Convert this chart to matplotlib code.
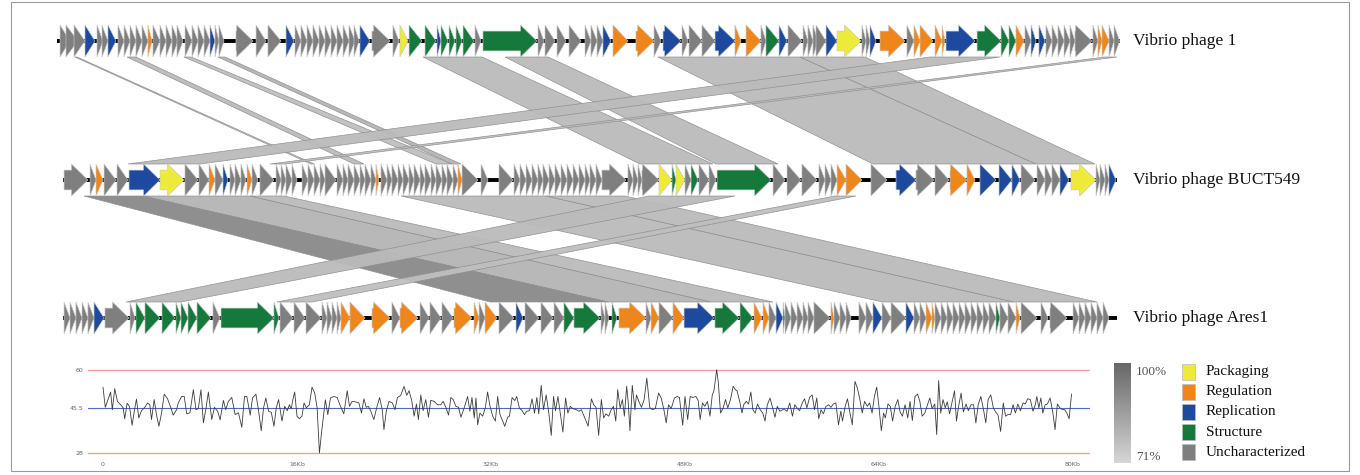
import numpy as np
import matplotlib.pyplot as plt
from matplotlib.patches import Polygon, Rectangle
from matplotlib.colors import LinearSegmentedColormap, Normalize

plt.rcParams['font.family'] = ['Liberation Serif', 'DejaVu Serif']

# ---------------- data ----------------
genome_names = ['Vibrio phage 1', 'Vibrio phage BUCT549', 'Vibrio phage Ares1']
genome_len = [80.5, 79.85, 79.85]          # kb

legend_cats = ['P', 'R', 'B', 'S', 'U']
legend_names = ['Packaging', 'Regulation', 'Replication', 'Structure', 'Uncharacterized']

# genes: (start kb, end kb, category)
genes_phage1 = [
    (0.23, 0.98, 'U'), (0.68, 1.59, 'U'), (1.29, 2.12, 'U'), (2.12, 2.88, 'B'),
    (3.03, 3.48, 'U'), (3.41, 3.86, 'U'), (3.86, 4.47, 'B'), (4.62, 5.08, 'U'),
    (5.08, 5.53, 'U'), (5.53, 5.98, 'U'), (5.98, 6.44, 'U'), (6.44, 6.89, 'U'),
    (6.89, 7.20, 'R'), (7.27, 7.80, 'U'), (7.80, 8.26, 'U'), (8.26, 8.71, 'U'),
    (8.71, 9.17, 'U'), (9.09, 9.55, 'U'), (9.70, 10.23, 'U'), (10.23, 10.68, 'U'),
    (10.68, 11.14, 'U'), (11.14, 11.59, 'U'), (11.59, 11.97, 'B'), (11.97, 12.27, 'U'),
    (12.27, 12.65, 'U'), (13.56, 14.85, 'U'), (15.08, 15.83, 'U'), (15.98, 16.97, 'U'),
    (17.35, 17.95, 'B'), (18.03, 18.48, 'U'), (18.48, 18.94, 'U'), (18.94, 19.39, 'U'),
    (19.39, 19.85, 'U'), (19.85, 20.30, 'U'), (20.30, 20.76, 'U'), (20.76, 21.21, 'U'),
    (21.21, 21.67, 'U'), (21.67, 22.12, 'U'), (22.12, 22.58, 'U'), (22.50, 22.88, 'U'),
    (22.95, 23.71, 'B'), (23.86, 25.23, 'U'), (25.45, 25.91, 'U'), (25.98, 26.59, 'P'),
    (26.67, 27.65, 'S'), (27.88, 28.71, 'S'), (28.79, 29.09, 'B'), (29.09, 29.62, 'S'),
    (29.70, 30.15, 'S'), (30.23, 30.68, 'S'), (30.76, 31.59, 'S'), (31.67, 32.12, 'U'),
    (32.27, 36.36, 'S'), (36.44, 36.89, 'U'), (36.97, 37.73, 'U'), (37.88, 38.56, 'U'),
    (38.79, 39.70, 'U'), (40.00, 40.45, 'U'), (40.45, 40.91, 'U'), (40.91, 41.36, 'U'),
    (41.36, 41.97, 'B'), (42.12, 43.26, 'R'), (43.86, 45.23, 'R'), (45.23, 45.76, 'U'),
    (45.91, 47.27, 'B'), (47.35, 47.80, 'U'), (47.88, 48.86, 'U'), (48.86, 49.85, 'U'),
    (49.85, 51.36, 'B'), (51.36, 51.82, 'R'), (52.20, 53.33, 'R'), (53.33, 53.71, 'U'),
    (53.71, 54.70, 'S'), (54.70, 55.30, 'B'), (55.38, 56.44, 'U'), (56.52, 56.89, 'U'),
    (56.89, 57.27, 'U'), (57.27, 57.65, 'U'), (57.50, 58.26, 'U'), (58.26, 59.09, 'B'),
    (59.09, 60.91, 'P'), (60.98, 61.29, 'U'), (61.29, 61.59, 'U'), (61.59, 62.05, 'B'),
    (62.35, 64.24, 'R'), (64.39, 64.92, 'U'), (64.92, 65.38, 'R'), (65.38, 66.36, 'R'),
    (66.52, 67.05, 'R'), (67.05, 67.27, 'R'), (67.35, 69.55, 'B'), (69.70, 71.52, 'S'),
    (71.52, 72.12, 'S'), (72.12, 72.65, 'S'), (72.65, 73.26, 'R'), (73.33, 73.79, 'U'),
    (73.79, 74.17, 'B'), (74.39, 74.85, 'B'), (74.92, 75.38, 'U'), (75.38, 75.83, 'U'),
    (75.83, 76.29, 'U'), (76.29, 76.74, 'U'), (76.74, 77.12, 'U'), (77.12, 78.41, 'U'),
    (78.48, 78.86, 'U'), (78.86, 79.17, 'R'), (79.17, 79.70, 'R'), (79.70, 80.08, 'U'),
    (80.08, 80.50, 'U'),
]

genes_buct549 = [
    (0.08, 1.89, 'U'), (2.05, 2.50, 'U'), (2.50, 3.03, 'R'), (3.11, 4.02, 'U'),
    (4.09, 4.92, 'U'), (5.00, 7.35, 'B'), (7.35, 9.17, 'P'), (9.24, 10.23, 'U'),
    (10.30, 11.06, 'U'), (11.06, 11.52, 'R'), (11.52, 12.12, 'U'), (12.12, 12.50, 'B'),
    (12.65, 13.03, 'U'), (13.03, 13.48, 'U'), (13.48, 13.86, 'U'), (13.94, 14.32, 'R'),
    (14.32, 14.77, 'U'), (14.92, 15.98, 'U'), (16.14, 16.52, 'U'), (16.52, 16.89, 'U'),
    (16.89, 17.35, 'U'), (17.35, 17.73, 'U'), (18.11, 18.56, 'U'), (18.56, 19.02, 'U'),
    (19.02, 19.47, 'U'), (19.47, 19.85, 'U'), (19.85, 20.68, 'U'), (20.76, 21.21, 'U'),
    (21.21, 21.59, 'U'), (21.59, 22.05, 'U'), (22.05, 22.50, 'U'), (22.50, 22.88, 'U'),
    (22.88, 23.33, 'U'), (23.33, 23.71, 'U'), (23.71, 23.94, 'R'), (24.09, 24.55, 'U'),
    (24.55, 24.92, 'U'), (24.92, 25.38, 'U'), (25.38, 25.76, 'U'), (25.76, 26.21, 'U'),
    (26.21, 26.59, 'U'), (26.59, 27.05, 'U'), (27.05, 27.42, 'U'), (27.42, 27.88, 'U'),
    (27.88, 28.26, 'U'), (28.26, 28.71, 'U'), (28.71, 29.09, 'U'), (29.09, 29.55, 'U'),
    (29.55, 29.92, 'U'), (29.92, 30.23, 'R'), (30.23, 31.44, 'U'), (31.67, 32.20, 'U'),
    (33.03, 34.09, 'U'), (34.17, 34.62, 'U'), (34.62, 35.08, 'U'), (35.08, 35.53, 'U'),
    (35.53, 35.98, 'U'), (35.98, 36.36, 'U'), (36.36, 36.82, 'U'), (36.82, 37.27, 'U'),
    (37.27, 37.73, 'U'), (37.73, 38.18, 'U'), (38.18, 38.64, 'U'), (38.64, 39.09, 'U'),
    (39.09, 39.55, 'U'), (39.55, 39.92, 'U'), (39.92, 40.38, 'U'), (40.38, 40.83, 'U'),
    (40.83, 42.65, 'U'), (42.80, 43.18, 'U'), (43.18, 43.56, 'U'), (43.56, 43.86, 'U'),
    (43.86, 45.15, 'U'), (45.15, 46.14, 'P'), (46.14, 46.44, 'S'), (46.44, 47.12, 'P'),
    (47.12, 47.58, 'U'), (47.58, 48.11, 'S'), (48.18, 48.94, 'U'), (48.94, 49.47, 'U'),
    (49.55, 53.64, 'S'), (53.79, 54.70, 'U'), (54.85, 55.91, 'U'), (55.98, 57.12, 'U'),
    (57.27, 57.73, 'U'), (57.73, 58.18, 'U'), (58.18, 58.64, 'U'), (58.64, 59.32, 'R'),
    (59.32, 60.53, 'R'), (61.21, 62.42, 'U'), (63.11, 64.62, 'B'), (64.62, 65.98, 'U'),
    (66.06, 67.12, 'U'), (67.20, 68.48, 'R'), (68.48, 69.09, 'R'), (69.47, 70.68, 'B'),
    (70.91, 71.89, 'B'), (71.89, 72.50, 'B'), (72.58, 73.64, 'U'), (73.79, 74.39, 'U'),
    (74.39, 74.92, 'U'), (74.92, 75.53, 'U'), (75.53, 76.21, 'B'), (76.36, 78.26, 'P'),
    (78.26, 78.56, 'U'), (78.56, 78.94, 'U'), (78.94, 79.24, 'U'), (79.24, 79.77, 'B'),
]

genes_ares1 = [
    (0.08, 0.53, 'U'), (0.53, 0.98, 'U'), (0.98, 1.44, 'U'), (1.44, 1.89, 'U'),
    (1.89, 2.35, 'U'), (2.35, 3.11, 'B'), (3.18, 5.00, 'U'), (5.08, 5.45, 'U'),
    (5.53, 6.21, 'S'), (6.21, 7.35, 'S'), (7.50, 8.48, 'S'), (8.56, 8.94, 'S'),
    (8.94, 9.47, 'S'), (9.47, 10.15, 'S'), (10.15, 11.21, 'S'), (11.36, 11.89, 'U'),
    (11.97, 15.98, 'S'), (15.98, 16.36, 'S'), (16.44, 17.42, 'U'), (17.50, 18.33, 'U'),
    (18.41, 19.55, 'U'), (19.62, 20.00, 'U'), (20.00, 20.38, 'U'), (20.38, 20.76, 'U'),
    (20.76, 21.06, 'U'), (21.06, 21.74, 'R'), (21.74, 22.88, 'R'), (23.41, 24.77, 'R'),
    (24.92, 25.53, 'U'), (25.53, 26.89, 'R'), (27.05, 27.73, 'U'), (27.80, 28.64, 'U'),
    (28.71, 29.55, 'U'), (29.62, 30.98, 'R'), (31.14, 31.52, 'R'), (31.52, 31.97, 'U'),
    (31.97, 32.88, 'R'), (33.03, 34.17, 'U'), (34.32, 34.85, 'B'), (35.00, 36.06, 'U'),
    (36.21, 37.12, 'U'), (37.20, 37.95, 'U'), (37.95, 38.71, 'S'), (38.71, 40.68, 'S'),
    (40.76, 41.06, 'U'), (41.06, 41.36, 'U'), (41.59, 41.97, 'S'), (42.12, 44.17, 'R'),
    (44.17, 44.55, 'U'), (44.55, 45.15, 'R'), (45.15, 46.21, 'U'), (46.21, 47.05, 'R'),
    (47.05, 49.32, 'B'), (49.39, 51.21, 'S'), (51.29, 52.27, 'S'), (52.35, 52.95, 'R'),
    (53.03, 53.48, 'R'), (53.48, 54.02, 'U'), (54.02, 54.55, 'B'), (54.55, 54.70, 'S'),
    (54.70, 55.15, 'U'), (55.15, 55.61, 'U'), (55.61, 56.06, 'U'), (56.06, 56.44, 'U'),
    (56.44, 56.89, 'U'), (56.89, 58.11, 'U'), (58.18, 58.41, 'R'), (58.41, 58.86, 'U'),
    (58.86, 59.32, 'U'), (59.32, 59.70, 'U'), (60.30, 60.83, 'U'), (60.83, 61.36, 'U'),
    (61.36, 62.05, 'B'), (62.05, 62.73, 'U'), (62.73, 63.86, 'U'), (63.86, 64.47, 'B'),
    (64.47, 64.92, 'U'), (64.92, 65.38, 'U'), (65.38, 65.83, 'R'), (65.83, 66.06, 'R'),
    (66.06, 66.52, 'U'), (66.52, 66.97, 'U'), (66.97, 67.42, 'U'), (67.42, 67.88, 'U'),
    (67.88, 68.33, 'U'), (68.33, 68.79, 'U'), (68.79, 69.24, 'U'), (69.24, 69.70, 'U'),
    (69.70, 70.15, 'U'), (70.15, 70.68, 'U'), (70.68, 70.98, 'S'), (70.98, 71.59, 'U'),
    (71.59, 72.20, 'U'), (72.20, 72.50, 'R'), (72.58, 73.79, 'U'), (74.09, 74.62, 'U'),
    (74.77, 76.06, 'U'), (76.52, 76.97, 'U'), (76.97, 77.42, 'U'), (77.42, 77.88, 'U'),
    (77.88, 78.33, 'U'), (78.33, 78.79, 'U'), (78.79, 79.24, 'U'),
]

# homologous regions: (start_a, end_a, start_b, end_b, identity %)
links_1_2 = [
    (1.36, 1.52, 18.79, 19.02, 76),
    (5.30, 5.98, 22.05, 22.80, 78),
    (9.62, 10.15, 28.26, 29.47, 77),
    (12.20, 12.73, 29.47, 30.15, 80),
    (27.73, 32.20, 43.71, 49.24, 78),
    (33.94, 37.20, 49.47, 54.17, 78),
    (45.53, 56.29, 61.36, 73.71, 78),
    (56.29, 61.21, 73.71, 78.18, 78),
    (66.14, 71.44, 4.92, 10.38, 78),
    (79.39, 80.30, 15.68, 16.82, 77),
]
links_2_3 = [
    (6.06, 14.17, 41.29, 49.09, 80),
    (1.59, 6.06, 32.35, 41.29, 91),
    (14.17, 16.74, 49.09, 53.79, 78),
    (25.61, 36.59, 62.12, 72.05, 78),
    (36.59, 42.56, 72.05, 78.33, 78),
    (44.39, 50.91, 4.77, 8.94, 78),
    (58.48, 60.08, 16.21, 18.86, 77),
]

# GC content (%) along the genome
gc_pos = [
    0.0, 0.19, 0.41, 0.63, 0.77, 0.97, 1.19, 1.46, 1.66, 1.79, 1.99, 2.18, 2.40, 2.57,
    2.76, 2.95, 3.17, 3.45, 3.67, 3.86, 4.00, 4.22, 4.41, 4.61, 4.83, 5.05, 5.32, 5.60,
    5.79, 6.07, 6.21, 6.48, 6.70, 6.90, 7.17, 7.45, 7.67, 7.86, 8.08, 8.28, 8.50, 8.69,
    8.97, 9.19, 9.46, 9.66, 9.93, 10.12, 10.34, 10.62, 10.90, 11.17, 11.45, 11.67, 11.86,
    12.14, 12.33, 12.61, 12.83, 13.05, 13.24, 13.43, 13.66, 13.88, 14.10, 14.29, 14.48,
    14.76, 14.98, 15.20, 15.37, 15.53, 15.64, 15.81, 16.00, 16.19, 16.41, 16.58, 16.77,
    17.02, 17.24, 17.46, 17.66, 17.85, 18.01, 18.34, 18.54, 18.76, 19.03, 19.31, 19.59,
    19.86, 20.14, 20.33, 20.55, 20.83, 21.10, 21.32, 21.52, 21.71, 21.88, 22.07, 22.34,
    22.57, 22.81, 23.03, 23.17, 23.37, 23.59, 23.86, 24.08, 24.28, 24.55, 24.83, 25.05,
    25.24, 25.46, 25.66, 25.85, 26.01, 26.21, 26.40, 26.62, 26.84, 27.03, 27.31, 27.59,
    27.86, 28.06, 28.28, 28.50, 28.69, 28.88, 29.10, 29.32, 29.52, 29.79, 30.07, 30.26,
    30.43, 30.62, 30.76, 30.90, 31.09, 31.31, 31.53, 31.72, 31.92, 32.14, 32.36, 32.55,
    32.74, 32.97, 33.13, 33.38, 33.52, 33.74, 33.96, 34.12, 34.34, 34.57, 34.76, 34.95,
    35.17, 35.39, 35.59, 35.78, 35.94, 36.14, 36.33, 36.55, 36.77, 36.97, 37.16, 37.32,
    37.52, 37.71, 37.93, 38.15, 38.34, 38.54, 38.76, 39.03, 39.26, 39.45,
    39.74, 40.01, 40.28, 40.47, 40.66, 40.88, 41.10, 41.29, 41.48, 41.71, 41.91, 42.10,
    42.29, 42.45, 42.65, 42.84, 43.00, 43.19, 43.32, 43.46, 43.65, 43.87, 44.00, 44.19,
    44.41, 44.63, 44.85, 45.09, 45.31, 45.55, 45.82, 46.04, 46.26, 46.45, 46.64, 46.86,
    47.13, 47.35, 47.54, 47.81, 48.00, 48.22, 48.43, 48.63, 48.90, 49.09, 49.25, 49.44,
    49.63, 49.85, 50.06, 50.25, 50.39, 50.61, 50.74, 50.93, 51.15, 51.34, 51.53, 51.75,
    51.97, 52.16, 52.29, 52.51, 52.70, 52.84, 53.05, 53.24, 53.43, 53.60, 53.79, 53.98,
    54.20, 54.41, 54.60, 54.79, 55.01, 55.23, 55.42, 55.61, 55.82, 56.04, 56.23, 56.42,
    56.64, 56.86, 57.05, 57.24, 57.45, 57.67, 57.86, 58.05, 58.27, 58.49, 58.68, 58.87,
    59.03, 59.22, 59.41, 59.63, 59.85, 60.04, 60.23, 60.44, 60.66, 60.85, 60.99, 61.21,
    61.40, 61.59, 61.80, 62.02, 62.21, 62.40, 62.62, 62.81, 63.03, 63.22, 63.43, 63.62,
    63.81, 63.98, 64.19, 64.38, 64.52, 64.74, 64.93, 65.12, 65.34, 65.55, 65.74, 65.93,
    66.15, 66.37, 66.56, 66.75, 66.97, 67.18, 67.37, 67.56, 67.78, 68.00, 68.19, 68.38,
    68.60, 68.76, 68.92, 69.09, 69.28, 69.47, 69.63, 69.82, 70.01, 70.23, 70.39, 70.55,
    70.77, 70.96, 71.18, 71.37, 71.59, 71.80, 71.99, 72.18, 72.40, 72.62, 72.81, 73.00,
    73.22, 73.43, 73.62, 73.82, 74.03, 74.25, 74.44, 74.63, 74.85, 75.06, 75.25, 75.45,
    75.66, 75.88, 76.07, 76.26, 76.48, 76.70, 76.89, 77.02, 77.18, 77.35, 77.51, 77.70,
    77.89, 78.11, 78.33, 78.52, 78.71, 78.92, 79.14, 79.33, 79.52, 79.68, 79.88,
]
gc_val = [
    53.3, 45.6, 48.6, 51.5, 44.7, 52.8, 47.9, 46.6, 45.4, 41.2, 47.2, 46.0, 38.7, 43.8,
    48.8, 41.5, 44.3, 45.6, 47.3, 46.6, 40.9, 48.6, 42.8, 38.3, 43.4, 50.7, 48.9, 45.4,
    42.6, 44.7, 47.3, 49.8, 49.8, 43.1, 43.5, 52.4, 44.7, 45.1, 52.4, 39.6, 45.4, 51.5,
    40.9, 45.6, 44.1, 40.8, 48.3, 44.7, 47.9, 49.4, 42.8, 43.5, 37.9, 49.8, 49.8,
    42.6, 49.2, 50.7, 44.3, 36.6, 45.4, 49.2, 44.1, 43.7, 38.3, 45.4, 48.6,
    40.3, 46.0, 44.3, 46.6, 45.1, 48.2, 51.5, 42.2, 41.2, 42.2, 47.3, 45.4,
    46.6, 53.4, 51.1, 45.4, 28.0, 35.3, 48.5, 42.8, 49.2, 49.8, 49.4, 46.0,
    43.1, 52.0, 46.0, 47.9, 47.7, 47.3, 43.4, 48.9, 45.6, 46.0, 44.3, 40.9,
    45.4, 49.4, 44.7, 37.0, 44.3, 47.9, 47.3, 44.7, 49.4, 50.2, 53.7, 50.2,
    52.0, 48.2, 42.2, 46.9, 40.9, 50.4, 44.3, 48.6, 41.8, 48.3, 47.9, 46.6,
    46.6, 47.9, 45.6, 42.6, 49.4, 48.6, 46.0, 45.6, 41.8, 45.4, 49.8, 44.1,
    49.4, 41.5, 49.2, 38.9, 43.4, 42.2, 45.4, 51.5, 46.0, 42.2, 40.3, 49.8,
    42.8, 40.3, 38.3, 41.8, 42.2, 49.4, 48.2, 49.8, 45.4, 44.3, 42.8, 44.1,
    44.3, 48.9, 43.4, 49.4, 43.1, 54.1, 44.7, 50.4, 43.4, 34.8, 49.8, 44.3,
    49.8, 43.4, 36.1, 49.2, 43.4, 46.0, 45.1, 44.7, 44.1, 44.7,
    41.5, 38.3, 48.9, 46.6, 45.6, 34.8, 48.6, 41.5, 43.1, 42.2, 44.7, 46.0,
    40.3, 52.4, 45.4, 48.6, 42.2, 53.7, 47.3, 36.6, 54.1, 44.7, 50.4, 47.9,
    45.6, 48.6, 56.9, 45.6, 44.7, 45.1, 51.1, 49.2, 44.7, 39.6, 46.6, 45.1,
    49.2, 49.8, 49.4, 38.7, 49.8, 40.9, 49.8, 49.4, 49.8, 48.2, 40.9, 47.3,
    46.0, 47.9, 42.2, 50.4, 52.0, 60.1, 55.6, 43.4, 45.4, 48.6, 45.4, 48.6,
    53.7, 52.4, 52.0, 47.9, 43.4, 46.6, 47.9, 46.9, 51.5, 44.7, 43.4, 46.9,
    44.7, 43.4, 40.3, 46.6, 49.2, 45.4, 41.8, 46.0, 44.1, 44.7, 44.7, 44.1,
    47.3, 42.2, 46.6, 45.4, 44.3, 47.3, 48.9, 45.4, 49.4, 50.4, 44.7, 49.2,
    41.2, 44.7, 43.1, 46.0, 46.6, 45.6, 46.9, 47.3, 38.9, 44.1, 40.3, 46.0,
    48.9, 43.8, 38.9, 55.6, 53.1, 49.2, 43.4, 47.9, 46.0, 47.3, 43.4, 49.8,
    53.4, 46.6, 36.6, 43.4, 41.5, 46.9, 46.0, 40.3, 46.0, 48.6, 43.8, 42.2,
    46.6, 41.5, 47.9, 40.5, 49.8, 50.7, 47.9, 42.2, 43.4, 46.6, 49.2, 45.1,
    46.9, 35.1, 55.9, 43.4, 48.6, 45.4, 47.7, 43.1, 47.3, 52.0, 40.3, 45.6,
    51.1, 43.8, 46.9, 44.3, 46.6, 46.6, 39.6, 46.6, 49.8, 44.7, 39.6, 48.6,
    50.4, 45.4, 43.8, 42.6, 36.3, 47.3, 42.2, 42.8, 42.8, 46.6, 43.4, 46.9,
    44.3, 47.3, 46.9, 48.9, 48.6, 44.1, 46.6, 49.8, 45.4, 49.2, 43.4, 46.6,
    46.9, 49.2, 43.8, 37.0, 46.9, 45.4, 44.7, 44.7, 43.1, 41.2, 50.7,
]

# ---------------- styles ----------------
W, H = 1360, 475
cat_colors = {'P': '#eeea3a', 'R': '#ef861c', 'B': '#1d4a9f', 'S': '#14793a', 'U': '#7f7f7f'}
id_cmap = LinearSegmentedColormap.from_list('ident', ['#d6d6d6', '#676767'])
id_norm = Normalize(71, 100)

KB_PX = 13.2                      # pixels per kb on the gene map
track_px = [41, 180, 318]         # track centres (figure px)
track_x0 = [57, 63, 63]           # track starts (figure px)
ROW_PX = 138.5
HALF_H = 16 / ROW_PX
BODY_H = 0.62 * HALF_H
HEAD_KB = 1.25

fig = plt.figure(figsize=(W / 100, H / 100), dpi=100)

# overlay for frame, labels and legend (figure pixel coords)
ov = fig.add_axes([0, 0, 1, 1])
ov.set_xlim(0, W)
ov.set_ylim(H, 0)
ov.axis('off')
ov.add_patch(Rectangle((11, 2), 1338, 469, fill=False, ec='#9a9a9a', lw=0.8))

# gene map axes: x in kb, y in track rows
ax = fig.add_axes([57 / W, 1 - 345 / H, 1063 / W, 335 / H])
ax.set_xlim(0, 1063 / KB_PX)
ax.set_ylim((345 - 41) / ROW_PX, (10 - 41) / ROW_PX)
ax.axis('off')

rows = [(p - track_px[0]) / ROW_PX for p in track_px]
offs = [(x - track_x0[0]) / KB_PX for x in track_x0]


def draw_gene(x0, x1, y, color):
    if x1 - x0 <= HEAD_KB:
        pts = [(x0, y - HALF_H), (x1, y), (x0, y + HALF_H)]
    else:
        xb = x1 - HEAD_KB
        pts = [(x0, y - BODY_H), (xb, y - BODY_H), (xb, y - HALF_H), (x1, y),
               (xb, y + HALF_H), (xb, y + BODY_H), (x0, y + BODY_H)]
    ax.add_patch(Polygon(pts, closed=True, fc=color, ec='#c9c9c9', lw=0.45, zorder=3))


def draw_link(a0, a1, b0, b1, ident, ia, ib):
    ya = rows[ia] + HALF_H
    yb = rows[ib] - HALF_H
    pts = [(a0 + offs[ia], ya), (a1 + offs[ia], ya), (b1 + offs[ib], yb), (b0 + offs[ib], yb)]
    c = id_cmap(id_norm(ident))
    ax.add_patch(Polygon(pts, closed=True, fc=c, ec='#8f8f8f', lw=0.5, alpha=0.95, zorder=1))


for (a0, a1, b0, b1, ident) in links_1_2:
    draw_link(a0, a1, b0, b1, ident, 0, 1)
for (a0, a1, b0, b1, ident) in links_2_3:
    draw_link(a0, a1, b0, b1, ident, 1, 2)

all_genes = [genes_phage1, genes_buct549, genes_ares1]
for i, genes in enumerate(all_genes):
    ax.plot([offs[i], offs[i] + genome_len[i]], [rows[i], rows[i]], color='black',
            lw=2.8, solid_capstyle='butt', zorder=2)
    for (g0, g1, cat) in genes:
        draw_gene(g0 + offs[i], g1 + offs[i], rows[i], cat_colors[cat])
    ov.text(1133, track_px[i], genome_names[i], fontsize=12.5, va='center', ha='left',
            color='#111111')

# GC content plot
axg = fig.add_axes([88 / W, 1 - 458 / H, (1090 - 88) / W, (458 - 365) / H])
axg.set_xlim(-15 / 12.125, 80 + 17 / 12.125)
axg.set_ylim(28 - 5 / 2.594, 60 + 5 / 2.594)
axg.axhline(60, color='#f2a0a0', lw=1.0)
axg.axhline(28, color='#f2a0a0', lw=1.0)
axg.axhline(45.5, color='#4a6cc0', lw=0.8)
axg.plot(gc_pos, gc_val, color='#3c3c3c', lw=0.6)
axg.set_yticks([28, 45.5, 60])
axg.set_yticklabels(['28', '45.5', '60'], family='DejaVu Sans')
axg.set_xticks([0, 16, 32, 48, 64, 80])
axg.set_xticklabels(['0', '16Kb', '32Kb', '48Kb', '64Kb', '80Kb'], family='DejaVu Sans')
axg.tick_params(length=0, labelsize=4.5, labelcolor='#666666', pad=3)
for s in axg.spines.values():
    s.set_visible(False)

# identity colour bar
axc = fig.add_axes([1114 / W, 1 - 463 / H, 17 / W, 100 / H])
axc.imshow(np.linspace(100, 71, 100).reshape(-1, 1), cmap=id_cmap, norm=id_norm,
           aspect='auto')
axc.axis('off')
ov.text(1136, 372, '100%', fontsize=9.5, va='center', ha='left', color='#555555')
ov.text(1136, 457, '71%', fontsize=9.5, va='center', ha='left', color='#555555')

# category legend
for k, (cat, name) in enumerate(zip(legend_cats, legend_names)):
    y0 = 364 + 20 * k
    ov.add_patch(Rectangle((1182, y0), 13, 16, fc=cat_colors[cat], ec='#bbbbbb', lw=0.5))
    ov.text(1206, y0 + 8, name, fontsize=11, va='center', ha='left', color='#111111')

fig.savefig('out.png', dpi=100)
